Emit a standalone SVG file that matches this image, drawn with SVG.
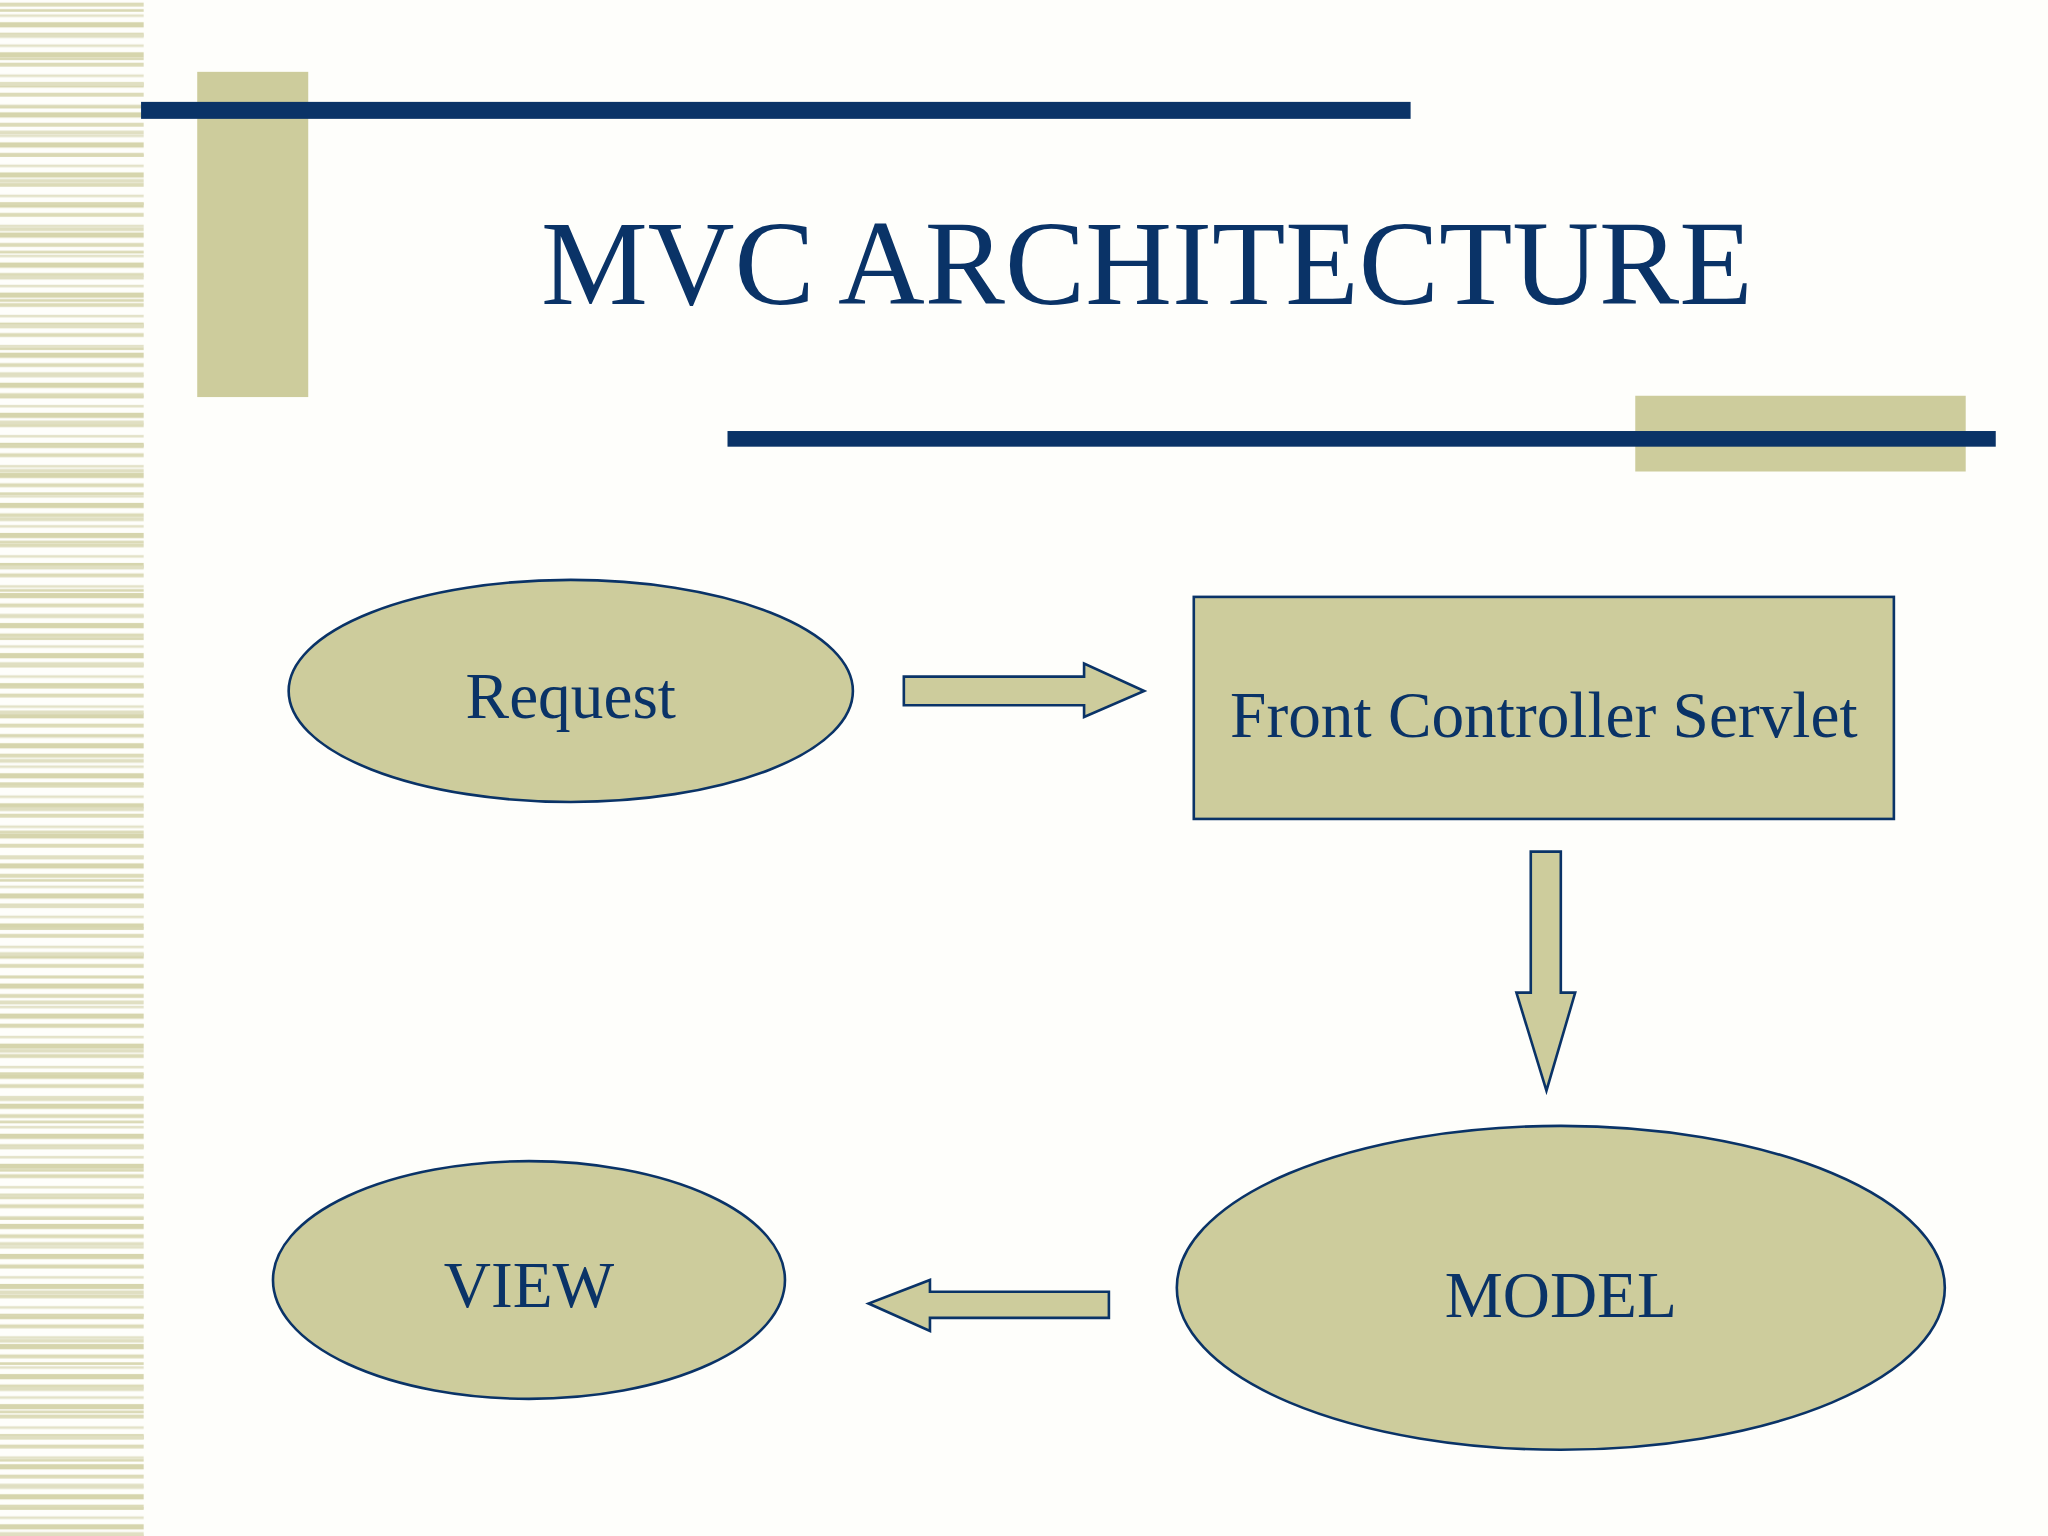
<svg xmlns="http://www.w3.org/2000/svg" width="2048" height="1536" viewBox="0 0 2048 1536">
<defs>
<style>
.bg{fill:#cdcc9c}
.nv{fill:#0a3367}
.sh{fill:#cdcc9c;stroke:#0a3367;stroke-width:2}
.t{font-family:"Liberation Serif","Times New Roman",serif;fill:#0a3367;text-anchor:middle}
</style>
<pattern id="p1" width="110" height="23" patternUnits="userSpaceOnUse">
<rect x="0" y="2" width="110" height="3" fill="#dcdbb8"/>
<rect x="0" y="11" width="110" height="2" fill="#e3e2c8"/>
<rect x="0" y="17" width="110" height="4" fill="#d6d5ad"/>
</pattern>
<pattern id="p2" width="110" height="37" patternUnits="userSpaceOnUse">
<rect x="0" y="7" width="110" height="2" fill="#d9d8b3"/>
<rect x="0" y="26" width="110" height="3" fill="#e0dfc2"/>
</pattern>
</defs>
<rect width="2048" height="1536" fill="#fefefb"/>
<g transform="scale(1.30612)">
<g id="decor">
<rect x="0" y="0" width="110" height="1176" fill="url(#p1)"/>
<rect x="0" y="0" width="110" height="1176" fill="url(#p2)"/>
<rect class="bg" x="151" y="55" width="85" height="249"/>
<rect class="nv" x="108" y="78" width="972" height="13"/>
<rect class="bg" x="1252" y="303" width="253" height="58"/>
<rect class="nv" x="557" y="330" width="971" height="12"/>
<text class="t" x="878" y="233" font-size="92">MVC ARCHITECTURE</text>
</g>
<g id="request">
<ellipse class="sh" cx="437" cy="529" rx="216" ry="85"/>
<text class="t" x="437" y="550" font-size="50">Request</text>
</g>
<g id="front-controller">
<rect class="sh" x="914" y="457" width="536" height="170"/>
<text class="t" x="1182" y="564" font-size="50">Front Controller Servlet</text>
</g>
<g id="model">
<ellipse class="sh" cx="1195" cy="986" rx="294" ry="124"/>
<text class="t" x="1195" y="1008" font-size="50">MODEL</text>
</g>
<g id="view">
<ellipse class="sh" cx="405" cy="980" rx="196" ry="91"/>
<text class="t" x="405" y="1001" font-size="50">VIEW</text>
</g>
<g id="connectors">
<polygon class="sh" points="692,518 830,518 830,508 876,529 830,549 830,540 692,540"/>
<polygon class="sh" points="1172,652 1195,652 1195,760 1206,760 1184,835 1161,760 1172,760"/>
<polygon class="sh" points="849,989 712,989 712,980 665,998 712,1019 712,1009 849,1009"/>
</g>
</g>
</svg>
